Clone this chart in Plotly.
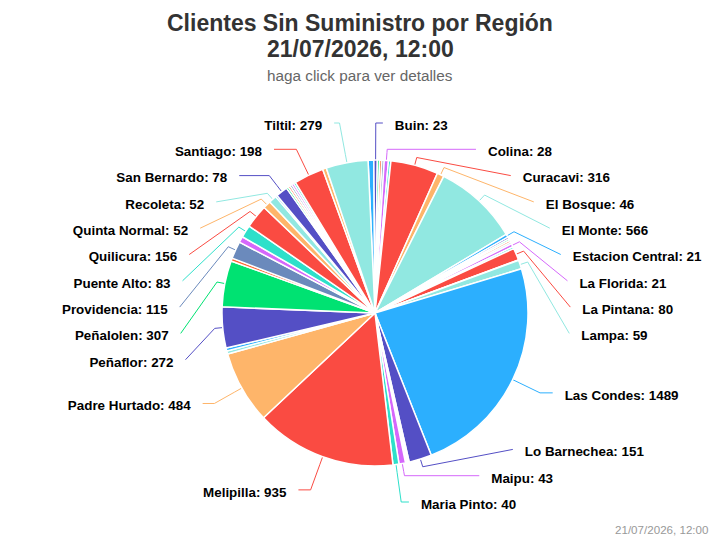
# Clientes sin suministro por comuna, pie with elbow leader lines
import math
import plotly.graph_objects as go

comunas = ["Alhue", "Buin", "Calera de Tango", "Cerrillos", "Cerro Navia", "Colina", "Conchali", "Curacavi",
           "El Bosque", "El Monte", "Estacion Central", "Huechuraba", "Independencia", "Isla de Maipo",
           "La Cisterna", "La Florida", "La Granja", "La Pintana", "La Reina", "Lampa", "Las Condes",
           "Lo Barnechea", "Lo Espejo", "Lo Prado", "Macul", "Maipu", "Maria Pinto", "Melipilla",
           "Padre Hurtado", "Paine", "Pedro Aguirre Cerda", "Peñaflor", "Peñalolen", "Pirque", "Providencia",
           "Pudahuel", "Puente Alto", "Quilicura", "Quinta Normal", "Recoleta", "Renca", "San Bernardo",
           "San Joaquin", "San Jose de Maipo", "San Miguel", "San Pedro", "San Ramon", "Santiago",
           "Talagante", "Tiltil"]
clientes = [38, 23, 15, 15, 15, 28, 16, 316,
            46, 566, 21, 13, 12, 13,
            12, 21, 13, 80, 3, 59, 1489,
            151, 8, 9, 8, 43, 40, 935,
            484, 20, 20, 272, 307, 20, 115,
            40, 83, 156, 52, 52, 12, 78,
            14, 14, 14, 14, 14, 198,
            25, 279]
# slices that carry a label in the original
con_etiqueta = ["Buin", "Colina", "Curacavi", "El Bosque", "El Monte", "Estacion Central", "La Florida",
                "La Pintana", "Lampa", "Las Condes", "Lo Barnechea", "Maipu", "Maria Pinto", "Melipilla",
                "Padre Hurtado", "Peñaflor", "Peñalolen", "Providencia", "Puente Alto", "Quilicura",
                "Quinta Normal", "Recoleta", "San Bernardo", "Santiago", "Tiltil"]

palette = ["#2caffe", "#544fc5", "#00e272", "#fe6a35", "#6b8abc", "#d568fb", "#2ee0ca", "#fa4b42", "#feb56a", "#91e8e1"]
colores = [palette[i % 10] for i in range(len(comunas))]

# Pie geometry in page pixels
W, H = 720, 540
CX, CY, R = 375, 313, 153
ROTATION = -2.6
LABEL_R = 192.5
ROW = 26.3
TOP, BOTTOM = 125, 504
# the two top labels do not follow the circle in the original
NUDGE = {"Buin": -9, "Tiltil": -24}


def spread(ideal):
    # push labels apart so rows stay at least ROW apart, inside TOP..BOTTOM
    blocks = []
    for i, y in enumerate(ideal):
        blocks.append([y - i * ROW, 1])
        while len(blocks) > 1 and blocks[-2][0] > blocks[-1][0]:
            v, n = blocks.pop()
            blocks[-1] = [(blocks[-1][0] * blocks[-1][1] + v * n) / (blocks[-1][1] + n), blocks[-1][1] + n]
    out = []
    for v, n in blocks:
        for _ in range(n):
            i = len(out)
            out.append(min(max(v, TOP), BOTTOM - (len(ideal) - 1) * ROW) + i * ROW)
    return out


# Mid angle of each slice, clockwise from the top
total = sum(clientes)
mids = []
acc = 0
for v in clientes:
    mids.append((acc + v / 2) / total * 2 * math.pi + math.radians(ROTATION))
    acc += v

shown = [i for i, c in enumerate(comunas) if c in con_etiqueta]
right = [i for i in shown if mids[i] < math.pi]
left = [i for i in shown if mids[i] >= math.pi][::-1]

fig = go.Figure()
fig.add_trace(go.Pie(labels=comunas, values=clientes, sort=False, direction="clockwise", rotation=ROTATION,
                     marker=dict(colors=colores, line=dict(color="white", width=1.5)),
                     textinfo="none", showlegend=False,
                     domain=dict(x=[(CX - R) / W, (CX + R) / W], y=[1 - (CY + R) / H, 1 - (CY - R) / H])))

for group, side in ((right, 1), (left, -1)):
    rows = spread([CY - 2 - math.cos(mids[i]) * LABEL_R for i in group])
    for i, y in zip(group, rows):
        # labels ride a circle, a little tighter above the centre than below
        dy = min(abs(y - (CY + 4 if y < CY else CY + 1)), LABEL_R)
        x = CX + side * (math.sqrt(LABEL_R ** 2 - dy ** 2) + 15) + NUDGE.get(comunas[i], 0)
        a = mids[i]
        # connector: label -> crook on the radial line -> break -> slice edge
        end_x = x - side * 12
        yline = y - 2
        bx, by = CX + math.sin(a) * (R + 8), CY - math.cos(a) * (R + 8)
        px, py = CX + math.sin(a) * R, CY - math.cos(a) * R
        xs, ys = [end_x], [yline]
        crook = CX + (CY - yline) * math.tan(a)
        if min(end_x, bx) <= crook <= max(end_x, bx):
            xs.append(crook)
            ys.append(yline)
        xs += [bx, px]
        ys += [by, py]
        fig.add_trace(go.Scatter(x=xs, y=ys, mode="lines", line=dict(color=colores[i], width=1),
                                 hoverinfo="skip", showlegend=False))
        fig.add_trace(go.Scatter(x=[x], y=[y + 1.5], mode="text", text=[f"<b>{comunas[i]}: {clientes[i]}</b>"],
                                 textposition="middle right" if side > 0 else "middle left",
                                 textfont=dict(family="Liberation Sans", size=13.4, color="black"),
                                 hoverinfo="skip", showlegend=False))

fig.update_layout(
    width=W, height=H,
    margin=dict(l=0, r=0, t=0, b=0),
    paper_bgcolor="white", plot_bgcolor="white",
    xaxis=dict(range=[0, W], visible=False, fixedrange=True),
    yaxis=dict(range=[H, 0], visible=False, fixedrange=True),
    annotations=[
        dict(text="<b>Clientes Sin Suministro por Región</b>", x=360, y=23, xref="x", yref="y", showarrow=False,
             font=dict(family="Liberation Sans", size=23, color="#333333")),
        dict(text="<b>21/07/2026, 12:00</b>", x=360, y=49, xref="x", yref="y", showarrow=False,
             font=dict(family="Liberation Sans", size=23, color="#333333")),
        dict(text="haga click para ver detalles", x=360, y=75, xref="x", yref="y", showarrow=False,
             font=dict(family="Liberation Sans", size=15.3, color="#666666")),
        dict(text="21/07/2026, 12:00", x=710, y=529, xref="x", yref="y", xanchor="right", showarrow=False,
             font=dict(family="Liberation Sans", size=11.6, color="#999999")),
    ],
)

# page margin off so the figure fills the 720x540 window
fig.write_html("out.html", config=dict(displayModeBar=False), post_script="document.body.style.margin = '0';")
